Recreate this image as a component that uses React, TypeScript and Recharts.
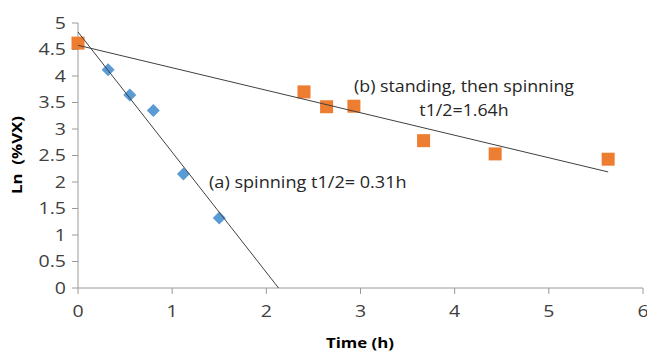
import React from 'react';
import { ComposedChart, Scatter, XAxis, YAxis } from 'recharts';

// spinning (a)
const spinTime = [0.32, 0.55, 0.8, 1.12, 1.5];
const spinLn = [4.12, 3.64, 3.35, 2.15, 1.32];
// standing then spinning (b)
const standTime = [0, 2.4, 2.64, 2.93, 3.67, 4.43, 5.63];
const standLn = [4.62, 3.7, 3.42, 3.43, 2.78, 2.53, 2.43];
// trend line end points
const spinFitTime = [0, 2.13];
const spinFitLn = [4.83, 0];
const standFitTime = [0, 5.63];
const standFitLn = [4.58, 2.19];

const xTicks = [0, 1, 2, 3, 4, 5, 6];
const yTicks = [0, 0.5, 1, 1.5, 2, 2.5, 3, 3.5, 4, 4.5, 5];

const zip = (xs: number[], ys: number[]) => xs.map((x, i) => ({ x, y: ys[i] }));

const spinData = zip(spinTime, spinLn);
const standData = zip(standTime, standLn);
const spinFit = zip(spinFitTime, spinFitLn);
const standFit = zip(standFitTime, standFitLn);

const font = "'Open Sans', 'DejaVu Sans', sans-serif";
const axisColor = '#9a9a9a';
const textColor = '#404040';
const stretch = 1.22; // the source text looks a bit wide

const Diamond = (props: any) => {
  const { cx, cy } = props;
  const r = 6.5;
  return <path d={`M${cx},${cy - r}L${cx + r},${cy}L${cx},${cy + r}L${cx - r},${cy}Z`} fill="#5B9BD5" />;
};

const Square = (props: any) => {
  const { cx, cy } = props;
  const s = 13;
  return <rect x={cx - s / 2} y={cy - s / 2} width={s} height={s} fill="#ED7D31" />;
};

const NoDot = () => <g />;

const wide = (x: number, y: number) => `translate(${x},${y}) scale(${stretch},1) translate(${-x},${-y})`;

const XTick = (props: any) => {
  const { x, y, payload } = props;
  return (
    <text x={x} y={y + 21} textAnchor="middle" fill={textColor} fontSize={16} fontFamily={font} transform={wide(x, y)}>
      {payload.value}
    </text>
  );
};

const YTick = (props: any) => {
  const { x, y, payload } = props;
  const tx = x - 4;
  return (
    <text x={tx} y={y + 6} textAnchor="end" fill={textColor} fontSize={16} fontFamily={font} transform={wide(tx, y)}>
      {payload.value}
    </text>
  );
};

export default function App() {
  return (
    <div style={{ position: 'absolute', left: 0, top: 0, width: 647, height: 352, background: '#fff', fontFamily: font }}>
      <ComposedChart width={647} height={352} margin={{ top: 23, right: 4, bottom: 0, left: 0 }}>
        <XAxis
          type="number"
          dataKey="x"
          domain={[0, 6]}
          ticks={xTicks}
          height={64}
          stroke={axisColor}
          tickSize={6}
          tick={<XTick />}
        />
        <YAxis
          type="number"
          dataKey="y"
          domain={[0, 5]}
          ticks={yTicks}
          width={78}
          stroke={axisColor}
          tickSize={6}
          tick={<YTick />}
        />
        <Scatter data={spinData} shape={Diamond} isAnimationActive={false} />
        <Scatter data={standData} shape={Square} isAnimationActive={false} />
        <Scatter data={spinFit} shape={NoDot} line={{ stroke: '#404040', strokeWidth: 1 }} isAnimationActive={false} />
        <Scatter data={standFit} shape={NoDot} line={{ stroke: '#404040', strokeWidth: 1 }} isAnimationActive={false} />
      </ComposedChart>
      <div style={{ position: 'absolute', left: 360, top: 333, transform: `translateX(-50%) scaleX(1.2)`, fontSize: 14, fontWeight: 'bold', color: '#000', whiteSpace: 'nowrap' }}>
        Time (h)
      </div>
      <div style={{ position: 'absolute', left: 16, top: 155, transform: `translate(-50%, -50%) rotate(-90deg) scaleX(1.2)`, fontSize: 14, fontWeight: 'bold', color: '#000', whiteSpace: 'nowrap' }}>
        Ln&nbsp; (%VX)
      </div>
      <div style={{ position: 'absolute', left: 209, top: 171, transform: 'scaleX(1.13)', transformOrigin: '0 0', fontSize: 16, color: '#262626', whiteSpace: 'nowrap' }}>
        (a) spinning t1/2= 0.31h
      </div>
      <div style={{ position: 'absolute', left: 464, top: 74, transform: 'translateX(-50%) scaleX(1.11)', fontSize: 16, color: '#262626', textAlign: 'center', lineHeight: '24px', whiteSpace: 'nowrap' }}>
        (b) standing, then spinning
        <br />
        t1/2=1.64h
      </div>
    </div>
  );
}
